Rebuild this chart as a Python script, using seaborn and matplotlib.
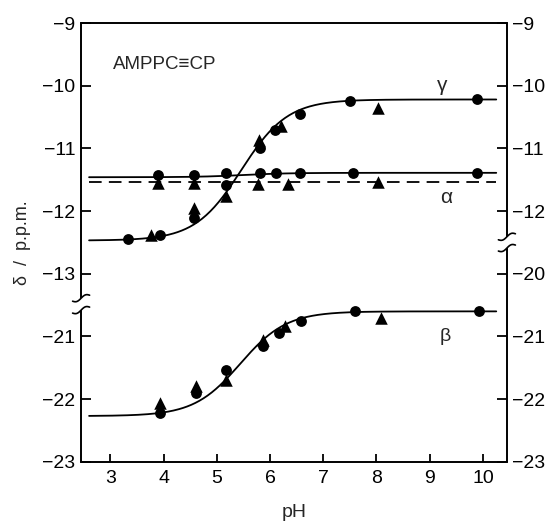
import numpy as np
import pandas as pd
import matplotlib
matplotlib.use("Agg")
import matplotlib.pyplot as plt
import seaborn as sns

# ---------------- data ----------------
# gamma phosphorus (upper panel, real ppm)
gamma_circ_ph = [3.34, 3.93, 4.58, 5.17, 5.82, 6.09, 6.56, 7.51, 9.89]
gamma_circ_d = [-12.45, -12.38, -12.11, -11.58, -11.00, -10.71, -10.45, -10.24, -10.22]
gamma_tri_ph = [3.76, 4.58, 5.17, 5.80, 6.21, 8.02]
gamma_tri_d = [-12.38, -11.95, -11.76, -10.87, -10.65, -10.35]

# alpha phosphorus
alpha_circ_ph = [3.89, 4.57, 5.17, 5.82, 6.12, 6.56, 7.55, 9.89]
alpha_circ_d = [-11.42, -11.42, -11.40, -11.40, -11.39, -11.39, -11.39, -11.39]
alpha_tri_ph = [3.89, 4.57, 5.77, 6.33, 8.02]
alpha_tri_d = [-11.56, -11.56, -11.57, -11.57, -11.54]

# beta phosphorus (lower panel, real ppm)
beta_circ_ph = [3.94, 4.61, 5.18, 5.86, 6.17, 6.59, 7.59, 9.92]
beta_circ_d = [-22.22, -21.91, -21.53, -21.15, -20.95, -20.75, -20.60, -20.60]
beta_tri_ph = [3.94, 4.61, 5.18, 5.86, 6.28, 8.09]
beta_tri_d = [-22.06, -21.79, -21.69, -21.06, -20.84, -20.70]

# fitted titration curves: (acid limit, base limit, pKa)
gamma_fit = (-12.47, -10.22, 5.46)
beta_fit = (-22.27, -20.60, 5.44)
alpha_solid_fit = (-11.46, -11.39, 5.5)
alpha_dashed_level = -11.53
fit_ph_range = (2.6, 10.25)

left_ticks_upper = [-9, -10, -11, -12, -13]
left_ticks_lower = [-21, -22, -23]
right_ticks_upper = [-9, -10, -11, -12]
right_ticks_lower = [-20, -21, -22, -23]
lower_offset = 7  # lower (beta) part drawn shifted up by 7 ppm on the broken axis

# ---------------- figure ----------------
sns.set_theme(style="white")
plt.rcParams['font.family'] = ['Liberation Sans', 'DejaVu Sans']
fig = plt.figure(figsize=(5.48, 5.23), dpi=100)
ax = fig.add_axes([0.148, 0.117, 0.777, 0.839])

lw = 1.3
ms_c = 7.8
ms_t = 9.0


def hh(ph, lo, hi, pka):
    ph = np.asarray(ph)
    return lo + (hi - lo) / (1 + 10 ** (pka - ph))

ph_fine = np.linspace(fit_ph_range[0], fit_ph_range[1], 300)

curves = pd.DataFrame({
    "pH": np.concatenate([ph_fine] * 4),
    "d": np.concatenate([
        hh(ph_fine, *gamma_fit),
        hh(ph_fine, *beta_fit) + lower_offset,
        hh(ph_fine, *alpha_solid_fit),
        np.full_like(ph_fine, alpha_dashed_level),
    ]),
    "curve": np.repeat(["gamma", "beta", "alpha", "alpha_d"], len(ph_fine)),
})

for name in ["gamma", "beta", "alpha"]:
    sns.lineplot(data=curves[curves.curve == name], x="pH", y="d", color="black",
                 lw=lw, ax=ax, legend=False, zorder=2)
sns.lineplot(data=curves[curves.curve == "alpha_d"], x="pH", y="d", color="black",
             lw=lw, ax=ax, legend=False, zorder=2, dashes=False, linestyle=(0, (7, 4)))

circ = pd.DataFrame({
    "pH": gamma_circ_ph + alpha_circ_ph + beta_circ_ph,
    "d": gamma_circ_d + alpha_circ_d + [v + lower_offset for v in beta_circ_d],
})
tri = pd.DataFrame({
    "pH": gamma_tri_ph + alpha_tri_ph + beta_tri_ph,
    "d": gamma_tri_d + alpha_tri_d + [v + lower_offset for v in beta_tri_d],
})
sns.scatterplot(data=circ, x="pH", y="d", marker="o", s=ms_c ** 2, color="black",
                edgecolor="black", linewidth=0, ax=ax, zorder=3)
sns.scatterplot(data=tri, x="pH", y="d", marker="^", s=ms_t ** 2, color="black",
                edgecolor="black", linewidth=0, ax=ax, zorder=3)

ax.set_xlim(2.45, 10.45)
ax.set_ylim(-16, -9)

# x axis
ax.set_xticks(range(3, 11))
ax.set_xticklabels([str(i) for i in range(3, 11)])
ax.set_xlabel("pH", fontsize=14, labelpad=12)
ax.set_ylabel("δ  /  p.p.m.", fontsize=13, labelpad=8)

# left ticks
lt = left_ticks_upper + [v + lower_offset for v in left_ticks_lower]
ax.set_yticks(lt)
ax.set_yticklabels(["\u2212" + str(abs(v)) for v in left_ticks_upper + left_ticks_lower])

ax.tick_params(axis="both", direction="in", length=7, width=1.3, labelsize=14,
               colors="black", pad=4)
ax.tick_params(axis="x", pad=6, length=6)
ax.tick_params(axis="y", left=True)
ax.tick_params(axis="x", bottom=True)

# right axis
ax2 = ax.twinx()
ax2.set_ylim(ax.get_ylim())
rt = right_ticks_upper + [v + lower_offset for v in right_ticks_lower]
ax2.set_yticks(rt)
ax2.set_yticklabels(["\u2212" + str(abs(v)) for v in right_ticks_upper + right_ticks_lower])
ax2.tick_params(axis="y", direction="in", length=7, width=1.3, labelsize=14,
                colors="black", pad=4, right=True)
ax2.grid(False)
ax.grid(False)

# spines: draw left/right manually with breaks
for a in (ax, ax2):
    for s in a.spines.values():
        s.set_visible(False)
ax.spines["top"].set_visible(True)
ax.spines["bottom"].set_visible(True)
for s in ("top", "bottom"):
    ax.spines[s].set_linewidth(1.4)
    ax.spines[s].set_color("black")

trans = ax.transAxes
def frac(v):
    return (v + 16) / 7.0

lb = (frac(-13.58), frac(-13.39))
rb = (frac(-12.59), frac(-12.41))
spk = dict(color="black", lw=1.4, transform=trans, clip_on=False, solid_capstyle="butt")
ax.plot([0, 0], [0, lb[0]], **spk)
ax.plot([0, 0], [lb[1], 1], **spk)
ax.plot([1, 1], [0, rb[0]], **spk)
ax.plot([1, 1], [rb[1], 1], **spk)

# break marks
t = np.linspace(-1, 1, 30)
dx = 8.5 / 426.0
dy = 3.0 / 439.0
for xpos, (y0, y1) in ((0, lb), (1, rb)):
    for yy in (y0, y1):
        ax.plot(xpos + dx * t, yy + dy * (t + 0.6 * np.sin(np.pi * t)),
                color="black", lw=1.2, transform=trans, clip_on=False)

# annotations
ax.text(0.075, 0.905, "AMPPC\u2261CP", transform=trans, fontsize=13.5, ha="left", va="center")
ax.text(9.24, -10.0, "γ", fontsize=15, ha="center", va="center")
ax.text(9.31, -11.78, "α", fontsize=15, ha="center", va="center")
ax.text(9.29, -21.0 + lower_offset, "β", fontsize=14, ha="center", va="center")

fig.savefig("out.png", dpi=100)
